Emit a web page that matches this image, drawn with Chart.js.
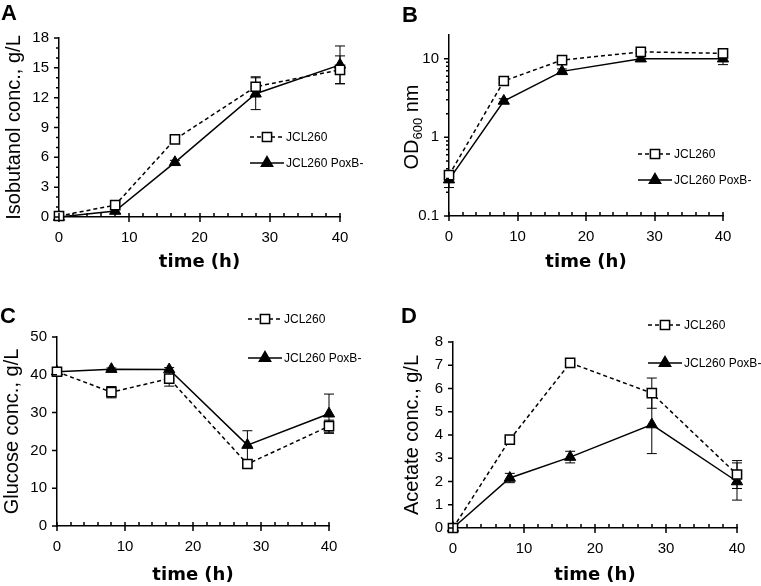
<!DOCTYPE html>
<html>
<head>
<meta charset="utf-8">
<script src="https://cdn.jsdelivr.net/npm/chart.js@4/dist/chart.umd.min.js"></script>
<style>
  body { margin: 0; background: #fff; width: 761px; height: 586px; position: relative; overflow: hidden; }
  .panel { position: absolute; }
  .letter { position: absolute; font: bold 22px "Liberation Sans", Arial, sans-serif; color: #000; line-height: 1; }
  .ytitle { position: absolute; font: 20px "Liberation Sans", Arial, sans-serif; color: #000; white-space: nowrap;
            transform: translate(-50%, -50%) rotate(-90deg); }
  .ytitle sub { font-size: 13px; vertical-align: -4px; }
</style>
</head>
<body>
<div class="panel" style="left:0;top:0;width:380px;height:290px"><canvas id="chartA"></canvas></div>
<div class="panel" style="left:380px;top:0;width:381px;height:290px"><canvas id="chartB"></canvas></div>
<div class="panel" style="left:0;top:290px;width:380px;height:296px"><canvas id="chartC"></canvas></div>
<div class="panel" style="left:380px;top:290px;width:381px;height:296px"><canvas id="chartD"></canvas></div>
<div class="letter" style="left:1px;top:2px">A</div>
<div class="letter" style="left:402px;top:4px">B</div>
<div class="letter" style="left:0px;top:305px">C</div>
<div class="letter" style="left:401px;top:305px">D</div>
<div class="ytitle" style="left:412px;top:127px">OD<sub>600</sub> nm</div>

<script>
// sampling times (h)
var time = [0, 8, 16.5, 28, 40]
var seriesNames = ['JCL260', 'JCL260 PoxB-']
var timeTicks = [0, 10, 20, 30, 40]

// A: isobutanol (g/L)
var isobutanolJCL = [0.1, 1.2, 7.8, 13.1, 14.8]
var isobutanolJCLErr = [0, 0.3, 0.4, 1.0, 1.4]
var isobutanolPoxB = [0, 0.6, 5.5, 12.4, 15.3]
var isobutanolPoxBErr = [0, 0.2, 0.2, 1.6, 1.9]
var isobutanolTicks = [0, 3, 6, 9, 12, 15, 18]

// B: OD600
var odJCL = [0.33, 5.2, 9.6, 12.2, 11.7]
var odJCLErr = [0.03, 0.3, 0.5, 0.6, 0.8]
var odPoxB = [0.29, 2.9, 6.9, 10.0, 10.0]
var odPoxBErr = [0.06, 0.2, 0.5, 0.6, 1.6]
var odTicks = [0.1, 1, 10]
var odMinor = [0.2, 0.3, 0.4, 0.5, 0.6, 0.7, 0.8, 0.9, 2, 3, 4, 5, 6, 7, 8, 9]

// C: glucose (g/L)
var glucoseJCL = [40.8, 35.4, 39.0, 16.4, 26.4]
var glucoseJCLErr = [0.5, 1.5, 2.0, 1.0, 1.6]
var glucosePoxB = [40.8, 41.5, 41.4, 21.4, 29.7]
var glucosePoxBErr = [0.3, 0.3, 0.5, 3.8, 5.2]
var glucoseTicks = [0, 10, 20, 30, 40, 50]

// D: acetate (g/L)
var acetateJCL = [0, 3.8, 7.1, 5.8, 2.3]
var acetateJCLErr = [0, 0.1, 0.1, 0.65, 0.6]
var acetatePoxB = [0, 2.15, 3.05, 4.45, 2.0]
var acetatePoxBErr = [0, 0.2, 0.25, 1.25, 0.8]
var acetateTicks = [0, 1, 2, 3, 4, 5, 6, 7, 8]

var tickFont = { family: '"Liberation Sans", Arial, sans-serif', size: 15 }

function pairs(xs, ys) {
  return xs.map(function (x, i) { return { x: x, y: ys[i] } })
}

function drawMarker(ctx, style, x, y, r) {
  ctx.beginPath()
  if (style === 'rect') {
    var s = r * Math.SQRT1_2
    ctx.rect(x - s, y - s, 2 * s, 2 * s)
    ctx.fillStyle = '#fff'
  } else {
    ctx.moveTo(x, y - r)
    ctx.lineTo(x + r * 0.866, y + r / 2)
    ctx.lineTo(x - r * 0.866, y + r / 2)
    ctx.closePath()
    ctx.fillStyle = '#000'
  }
  ctx.setLineDash([])
  ctx.fill()
  ctx.stroke()
}

// error bars, tick marks and the in-plot legend
var extras = {
  id: 'extras',
  beforeDatasetsDraw: function (chart, args, opts) {
    var ctx = chart.ctx, xs = chart.scales.x, ys = chart.scales.y
    ctx.save()
    ctx.strokeStyle = '#000'
    ctx.lineWidth = 1
    opts.errors.forEach(function (errs, i) {
      var data = chart.data.datasets[i].data
      errs.forEach(function (e, j) {
        if (!e) return
        var px = xs.getPixelForValue(data[j].x)
        var top = ys.getPixelForValue(data[j].y + e)
        var bot = ys.getPixelForValue(data[j].y - e)
        ctx.beginPath()
        ctx.moveTo(px, top); ctx.lineTo(px, bot)
        ctx.moveTo(px - 5, top); ctx.lineTo(px + 5, top)
        ctx.moveTo(px - 5, bot); ctx.lineTo(px + 5, bot)
        ctx.stroke()
      })
    })
    ctx.restore()
  },
  afterDraw: function (chart, args, opts) {
    var ctx = chart.ctx, xs = chart.scales.x, ys = chart.scales.y, a = chart.chartArea
    ctx.save()
    ctx.strokeStyle = '#000'
    ctx.lineWidth = 1.5
    ctx.beginPath()
    for (var t = 0; t <= 40; t += 2) {
      var px = Math.round(xs.getPixelForValue(t))
      if (t % 10 === 0) { ctx.moveTo(px, a.bottom - 4); ctx.lineTo(px, a.bottom + 5) }
      else { ctx.moveTo(px, a.bottom - 4); ctx.lineTo(px, a.bottom) }
    }
    ys.ticks.forEach(function (tk) {
      var py = ys.getPixelForValue(tk.value)
      ctx.moveTo(a.left - 5, py); ctx.lineTo(a.left, py)
    })
    ;(opts.yMinor || []).forEach(function (v) {
      var py = ys.getPixelForValue(v)
      ctx.moveTo(a.left - 3, py); ctx.lineTo(a.left, py)
    })
    ctx.stroke()

    var lg = opts.legend
    ctx.font = '12px "Liberation Sans", Arial, sans-serif'
    ctx.textBaseline = 'middle'
    chart.data.datasets.forEach(function (ds, i) {
      var y = lg.y + i * lg.gap
      ctx.strokeStyle = '#000'
      ctx.lineWidth = 1.5
      ctx.setLineDash(ds.borderDash || [])
      ctx.beginPath()
      ctx.moveTo(lg.x, y); ctx.lineTo(lg.x + 34, y)
      ctx.stroke()
      drawMarker(ctx, ds.pointStyle, lg.x + 17, y, 6.5)
      ctx.fillStyle = '#000'
      ctx.fillText(ds.label, lg.x + 36, y + 1)
    })
    ctx.restore()
  }
}

function makePanel(id, p) {
  return new Chart(document.getElementById(id), {
    type: 'line',
    data: {
      datasets: [
        {
          label: seriesNames[0], data: pairs(time, p.jcl),
          borderColor: '#000', borderWidth: 1.5, borderDash: [4, 3],
          pointStyle: 'rect', pointRadius: 6.5, pointBorderWidth: 1.5,
          pointBackgroundColor: '#fff', pointBorderColor: '#000', clip: false
        },
        {
          label: seriesNames[1], data: pairs(time, p.poxb),
          borderColor: '#000', borderWidth: 1.5,
          pointStyle: 'triangle', pointRadius: 6.5, pointBorderWidth: 1,
          pointBackgroundColor: '#000', pointBorderColor: '#000', clip: false
        }
      ]
    },
    options: {
      responsive: true,
      maintainAspectRatio: false,
      animation: false,
      layout: { padding: { left: 0, top: p.area.top, right: p.w - p.area.right, bottom: 0 } },
      scales: {
        x: {
          type: 'linear', min: 0, max: 40,
          afterBuildTicks: function (s) { s.ticks = timeTicks.map(function (v) { return { value: v } }) },
          afterFit: function (s) { s.height = p.h - p.area.bottom },
          grid: { display: false, drawTicks: false },
          border: { color: '#000', width: 1.5 },
          ticks: { padding: 12, color: '#000', font: tickFont },
          title: {
            display: true, text: 'time (h)', color: '#000',
            font: { family: '"DejaVu Sans", sans-serif', weight: 'bold', size: 18 },
            padding: { top: 0, bottom: p.xTitlePad }
          }
        },
        y: {
          type: p.log ? 'logarithmic' : 'linear', min: p.yTicks[0], max: p.yMax,
          afterBuildTicks: function (s) { s.ticks = p.yTicks.map(function (v) { return { value: v } }) },
          afterFit: function (s) { s.width = p.area.left },
          grid: { display: false, drawTicks: false },
          border: { color: '#000', width: 1.5 },
          ticks: { padding: 10, color: '#000', font: tickFont, callback: function (v) { return String(v) } },
          title: {
            display: !!p.yTitle, text: p.yTitle, color: '#000',
            font: { family: '"Liberation Sans", Arial, sans-serif', size: 20 },
            padding: { top: p.yTitlePad, bottom: 0 }
          }
        }
      },
      plugins: {
        legend: { display: false },
        tooltip: { enabled: false },
        extras: { errors: [p.jclErr, p.poxbErr], yMinor: p.yMinor, legend: p.legend }
      }
    },
    plugins: [extras]
  })
}

makePanel('chartA', {
  w: 380, h: 290, area: { left: 59, top: 38, right: 340, bottom: 217 },
  jcl: isobutanolJCL, jclErr: isobutanolJCLErr, poxb: isobutanolPoxB, poxbErr: isobutanolPoxBErr,
  yTicks: isobutanolTicks, yMax: 18, yMinor: [1, 2, 4, 5, 7, 8, 10, 11, 13, 14, 16, 17],
  yTitle: 'Isobutanol conc., g/L', yTitlePad: 2, xTitlePad: 17,
  legend: { x: 250, y: 137, gap: 26 }
})

makePanel('chartB', {
  w: 381, h: 290, area: { left: 69, top: 35, right: 343, bottom: 216 },
  log: true,
  jcl: odJCL, jclErr: odJCLErr, poxb: odPoxB, poxbErr: odPoxBErr,
  yTicks: odTicks, yMax: 20, yMinor: odMinor,
  yTitle: '', yTitlePad: 0, xTitlePad: 17,
  legend: { x: 258, y: 154, gap: 26 }
})

makePanel('chartC', {
  w: 380, h: 296, area: { left: 57, top: 47, right: 329, bottom: 236 },
  jcl: glucoseJCL, jclErr: glucoseJCLErr, poxb: glucosePoxB, poxbErr: glucosePoxBErr,
  yTicks: glucoseTicks, yMax: 50,
  yTitle: 'Glucose conc., g/L', yTitlePad: 0, xTitlePad: 0,
  legend: { x: 248, y: 29, gap: 39 }
})

makePanel('chartD', {
  w: 381, h: 296, area: { left: 73, top: 52, right: 357, bottom: 238 },
  jcl: acetateJCL, jclErr: acetateJCLErr, poxb: acetatePoxB, poxbErr: acetatePoxBErr,
  yTicks: acetateTicks, yMax: 8,
  yTitle: 'Acetate conc., g/L', yTitlePad: 20, xTitlePad: 0,
  legend: { x: 268, y: 35, gap: 38 }
})
</script>
</body>
</html>
